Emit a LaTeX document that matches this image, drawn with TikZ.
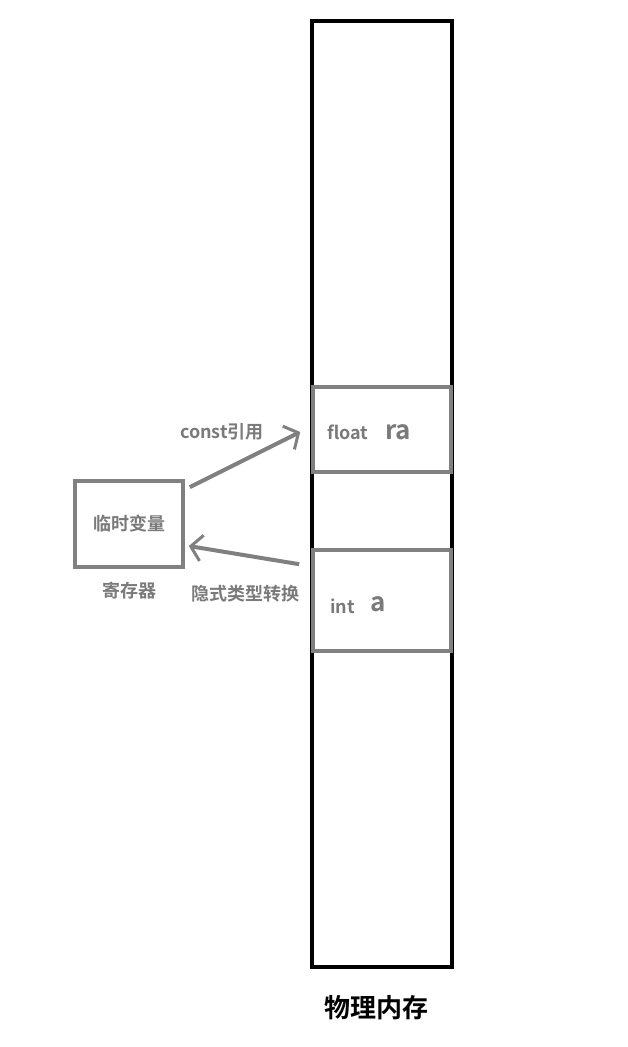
\documentclass[tikz,border=0pt]{standalone}
\usepackage{fontspec}
\setmainfont{Noto Sans CJK SC}[BoldFont={* Bold}]
\usetikzlibrary{positioning,arrows.meta}
\definecolor{boxgray}{HTML}{808080}
\definecolor{txtgray}{HTML}{7A7A7A}

\begin{document}
\begin{tikzpicture}[x=1pt, y=-1pt, font=\bfseries,
  mem/.style={draw=black, line width=4pt, minimum width=140pt, minimum height=946pt, inner sep=0pt},
  cell/.style={draw=boxgray, line width=3.6pt, minimum width=138pt, inner sep=0pt},
  t/.style={text=txtgray, inner sep=0pt, font=\fontsize{18}{21}\selectfont\bfseries},
  a/.style={-{Straight Barb[length=11pt, width=26pt, line width=3pt]}, draw=boxgray, line width=4pt}]
\useasboundingbox (0,0) rectangle (627,1047);
\node[mem] (mem) at (382,494) {};
\node[cell, minimum height=85pt] (fl) at (382,429.5) {};
\node[cell, minimum height=101pt] (in) at (382,600.5) {};
\node[cell, minimum width=108pt, minimum height=86pt] (tmp) at (129,524) {};
\node[t] (tmptxt) at (tmp) {临时变量};
\node[t, below=13pt of tmp] (reg) {寄存器};
\node[t, anchor=west] (flt) at (327,432) {float};
\node[t, anchor=west, font=\fontsize{26}{30}\selectfont\bfseries] (ra) at (385,432) {ra};
\node[t, anchor=west] (it) at (330,606) {int};
\node[t, anchor=west, font=\fontsize{26}{30}\selectfont\bfseries] (av) at (370,604) {a};
\node[t] (cref) at (222,432) {const引用};
\node[t] (conv) at (245,594) {隐式类型转换};
\node[font=\fontsize{26}{30}\selectfont\bfseries, inner sep=0pt] (phys) at (376,1008) {物理内存};
\draw[a] ([xshift=5pt, yshift=-8pt]tmp.north east) -- ([xshift=-11pt, yshift=-2.5pt]fl.west);
\draw[a] ([xshift=-12pt, yshift=-16pt]in.north west) -- ([xshift=4pt, yshift=-22pt]tmp.east);
\end{tikzpicture}
\end{document}
